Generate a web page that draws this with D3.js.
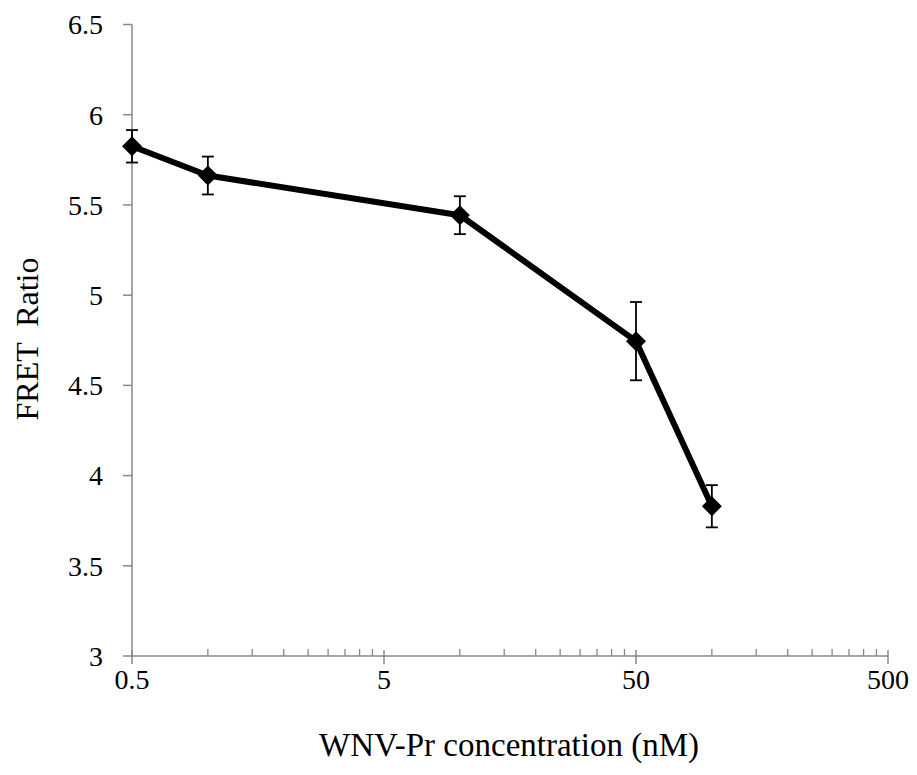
<!DOCTYPE html>
<html>
<head>
<meta charset="utf-8">
<script src="https://cdn.jsdelivr.net/npm/d3@7"></script>
<style>
  body { margin: 0; background: #fff; }
</style>
</head>
<body>
<div id="chart"></div>
<script>
// datos ------------------------------------------
var concentration = [0.5, 1, 10, 50, 100];
var fretRatio = [5.825, 5.663, 5.443, 4.745, 3.83];
var fretError = [0.09, 0.105, 0.105, 0.217, 0.117];
var xTicks = [0.5, 5, 50, 500];
var yTicks = [3, 3.5, 4, 4.5, 5, 5.5, 6, 6.5];

var W = 917, H = 775;
var margin = { top: 24.5, right: 29, bottom: 119, left: 132 };
var fontFam = "'Liberation Serif', 'Times New Roman', 'DejaVu Serif', serif";

var svg = d3.select("#chart").append("svg")
  .attr("width", W).attr("height", H)
  .style("font-family", fontFam);

var x = d3.scaleLog().domain([0.5, 500]).range([margin.left, W - margin.right]);
var y = d3.scaleLinear().domain([3, 6.5]).range([H - margin.bottom, margin.top]);

var axisColor = "#888";

// minor ticks en X
var minor = [];
[0.5, 5, 50].forEach(function (d) {
  for (var k = 2; k <= 9; k++) minor.push(d * k);
});

var gx = svg.append("g").attr("transform", "translate(0," + y(3) + ")");
gx.append("line").attr("x1", x(0.5)).attr("x2", x(500))
  .attr("stroke", axisColor).attr("stroke-width", 1.5);
gx.selectAll(".minor").data(minor).enter().append("line")
  .attr("x1", d => x(d)).attr("x2", d => x(d))
  .attr("y1", -7).attr("y2", 0)
  .attr("stroke", axisColor).attr("stroke-width", 1.3);
gx.selectAll(".major").data(xTicks).enter().append("line")
  .attr("x1", d => x(d)).attr("x2", d => x(d))
  .attr("y1", -6).attr("y2", 8)
  .attr("stroke", axisColor).attr("stroke-width", 1.5);
gx.selectAll("text").data(xTicks).enter().append("text")
  .attr("x", d => x(d)).attr("y", 33)
  .attr("text-anchor", "middle")
  .attr("fill", "#000")
  .attr("font-family", fontFam).attr("font-size", "28px")
  .text(d => d);

// eje Y
var gy = svg.append("g").attr("transform", "translate(" + x(0.5) + ",0)");
gy.append("line").attr("y1", y(3)).attr("y2", y(6.5))
  .attr("stroke", axisColor).attr("stroke-width", 1.5);
gy.selectAll(".tick").data(yTicks).enter().append("line")
  .attr("x1", -9).attr("x2", 0)
  .attr("y1", d => y(d)).attr("y2", d => y(d))
  .attr("stroke", axisColor).attr("stroke-width", 1.5);
gy.selectAll("text").data(yTicks).enter().append("text")
  .attr("x", -29).attr("y", d => y(d))
  .attr("dy", "0.35em")
  .attr("text-anchor", "end")
  .attr("fill", "#000")
  .attr("font-family", fontFam).attr("font-size", "28px")
  .text(d => d);

// titulos
svg.append("text")
  .attr("x", 509).attr("y", 756)
  .attr("text-anchor", "middle")
  .attr("fill", "#000")
  .attr("font-family", fontFam).attr("font-size", "33px")
  .text("WNV-Pr concentration (nM)");
svg.append("text")
  .attr("transform", "translate(38,339) rotate(-90)")
  .attr("text-anchor", "middle")
  .attr("fill", "#000")
  .attr("font-family", fontFam).attr("font-size", "32px")
  .style("white-space", "pre")
  .text("FRET  Ratio");

// datos
var data = concentration.map((c, i) => ({ c: c, v: fretRatio[i], e: fretError[i] }));

var line = d3.line().x(d => x(d.c)).y(d => y(d.v));
svg.append("path").datum(data)
  .attr("d", line)
  .attr("fill", "none").attr("stroke", "#000")
  .attr("stroke-width", 6).attr("stroke-linejoin", "round");

// barras de error
var err = svg.append("g").attr("stroke", "#000").attr("stroke-width", 1.8);
err.selectAll(".v").data(data).enter().append("line")
  .attr("x1", d => x(d.c)).attr("x2", d => x(d.c))
  .attr("y1", d => y(d.v - d.e)).attr("y2", d => y(d.v + d.e));
err.selectAll(".t").data(data).enter().append("line")
  .attr("x1", d => x(d.c) - 6).attr("x2", d => x(d.c) + 6)
  .attr("y1", d => y(d.v + d.e)).attr("y2", d => y(d.v + d.e));
err.selectAll(".b").data(data).enter().append("line")
  .attr("x1", d => x(d.c) - 6).attr("x2", d => x(d.c) + 6)
  .attr("y1", d => y(d.v - d.e)).attr("y2", d => y(d.v - d.e));

// marcadores diamante
svg.selectAll(".pt").data(data).enter().append("path")
  .attr("transform", d => "translate(" + x(d.c) + "," + y(d.v) + ")")
  .attr("d", "M0,-10L10,0L0,10L-10,0Z")
  .attr("fill", "#000");
</script>
</body>
</html>
